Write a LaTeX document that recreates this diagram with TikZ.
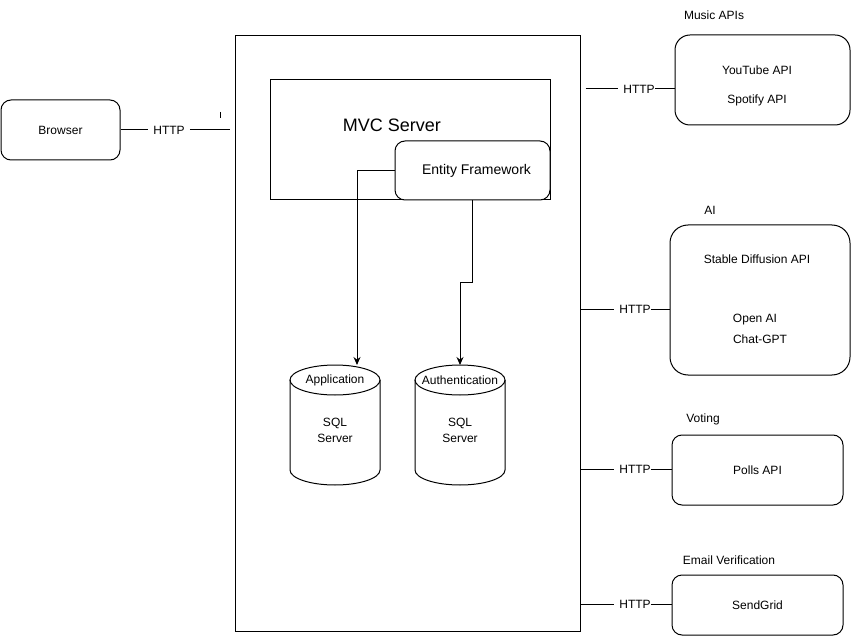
\documentclass[tikz,border=0pt]{standalone}
\usepackage{fontspec}
\setmainfont{Liberation Sans}
\usetikzlibrary{positioning, arrows.meta}
\tikzstyle{lbl}=[font=\fontsize{12}{14}\selectfont,inner sep=1pt]
\tikzstyle{httplbl}=[lbl,inner xsep=5pt]
\tikzstyle{box}=[draw,line width=1pt,inner sep=0pt]
\tikzstyle{rbox}=[box,rounded corners=10pt]
\tikzstyle{wire}=[line width=1pt]
\tikzstyle{arr}=[wire,-{Stealth[length=8pt,width=7pt]}]

\begin{document}
\begin{tikzpicture}[x=1pt,y=-1pt]
    \useasboundingbox (0,0) rectangle (851,636);
    % server side
    \node[box,minimum width=345pt,minimum height=595pt] (srv) at (407.5,333.5) {};
    \node[box,minimum width=280pt,minimum height=120pt] (mvc) at (410,140) {};
    \node[lbl,font=\fontsize{18}{20}\selectfont] (mvclbl) at (392,125) {MVC Server};
    \node[rbox,lbl,fill=white,minimum width=155pt,minimum height=59pt] (ef) at (472.5,170.5) {\hspace{8pt}\fontsize{14}{16}\selectfont Entity Framework};
    % databases
    \foreach \n/\x/\t in {app/335/Application, auth/460/Authentication} {
        \draw[wire] (\x-45,380) -- (\x-45,470) arc[start angle=180,end angle=0,x radius=45,y radius=15] -- (\x+45,380);
        \draw[wire] (\x,380) ellipse [x radius=45,y radius=15];
        \node[lbl] (\n top) at (\x,380) {\t};
        \node[lbl,align=center] (\n) at (\x,430) {SQL\\[2pt]Server};}
    \coordinate (app in) at (357,365);
    \coordinate (auth in) at (460,365);
    \draw[arr] (ef.west) -| (app in);
    \draw[arr] (ef.south) -- ++(0,82) -| (auth in);
    % browser
    \node[rbox,lbl,minimum width=119pt,minimum height=60pt] (browser) at (60.5,130) {Browser};
    \node[httplbl] (http0) at (169,130) {HTTP};
    \coordinate (srv in) at (230,130);
    \draw[wire] (browser.east) -- (http0.west);
    \draw[wire] (http0.east) -- (srv in);
    \draw[wire] (220,112) -- (220,118);
    % external services
    \node[rbox,rounded corners=15pt,minimum width=175pt,minimum height=90pt] (music) at (762.5,80) {};
    \node[lbl] (musiclbl) at (714,15) {Music APIs};
    \node[lbl] (yt) at (757,70) {YouTube API};
    \node[lbl] (spot) at (757,100) {Spotify API};
    \node[rbox,rounded corners=18pt,minimum width=180pt,minimum height=150pt] (ai) at (760,300) {};
    \node[lbl] (ailbl) at (710,210) {AI};
    \node[lbl] (sd) at (757,259) {Stable Diffusion API};
    \node[lbl] (oai) at (755,320) {Open AI};
    \node[lbl] (gpt) at (760,339) {Chat-GPT};
    \node[rbox,lbl,minimum width=171pt,minimum height=70pt] (polls) at (757.5,470) {Polls API};
    \node[lbl] (votelbl) at (703,419) {Voting};
    \node[rbox,lbl,minimum width=171pt,minimum height=60pt] (mail) at (757.5,605) {SendGrid};
    \node[lbl] (maillbl) at (729,560) {Email Verification};
    % http links
    \foreach \n/\x/\y/\s/\d in {http1/639/89/5/music, http2/635/309/0/ai, http3/635/469/0/polls, http4/635/604/0/mail} {
        \node[httplbl] (\n) at (\x,\y) {HTTP};
        \draw[wire] ([xshift=\s pt]srv.east |- \n) -- (\n.west);
        \draw[wire] ([xshift=-5pt]\n.east) -- (\d.west |- \n);}
\end{tikzpicture}
\end{document}
